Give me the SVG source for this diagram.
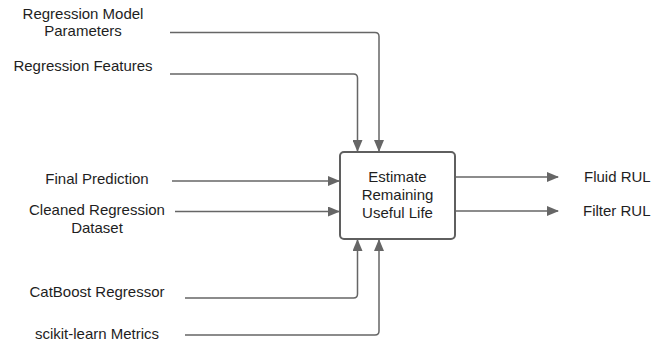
<svg xmlns="http://www.w3.org/2000/svg" width="652" height="344" viewBox="0 0 652 344">
  <defs>
    <marker id="arrow" viewBox="0 0 12 10" refX="11" refY="5" markerWidth="12" markerHeight="10" markerUnits="userSpaceOnUse" orient="auto">
      <path d="M0,0 L12,5 L0,10 z" fill="#666666"/>
    </marker>
  </defs>
  <style>
    text { font-family: "Liberation Sans", Arial, sans-serif; font-size: 15px; fill: #1e1e1e; }
    .c { text-anchor: middle; }
    .edge { fill: none; stroke: #666666; stroke-width: 1.5; marker-end: url(#arrow); }
    .box { fill: #ffffff; stroke: #5f5f5f; stroke-width: 2; }
  </style>
  <rect width="652" height="344" fill="#ffffff"/>

  <g id="connectors">
    <path class="edge" d="M170,32.5 H375 Q379,32.5 379,36.5 V151"/>
    <path class="edge" d="M170,74 H353.5 Q357.5,74 357.5,78 V151"/>
    <path class="edge" d="M172,181 H339"/>
    <path class="edge" d="M175,211.5 H339"/>
    <path class="edge" d="M185,298 H353.5 Q357.5,298 357.5,294 V240"/>
    <path class="edge" d="M185,335 H375 Q379,335 379,331 V240"/>
    <path class="edge" d="M456,177 H558"/>
    <path class="edge" d="M456,211 H558"/>
  </g>

  <g id="process">
    <rect class="box" x="340" y="152" width="115" height="87" rx="4"/>
    <text class="c" x="397.5" y="182">Estimate</text>
    <text class="c" x="397.5" y="200">Remaining</text>
    <text class="c" x="397.5" y="218">Useful Life</text>
  </g>

  <g id="in-model-params">
    <text class="c" x="83" y="19">Regression Model</text>
    <text class="c" x="83" y="36">Parameters</text>
  </g>
  <g id="in-features">
    <text class="c" x="83" y="71">Regression Features</text>
  </g>
  <g id="in-final-prediction">
    <text class="c" x="97" y="184">Final Prediction</text>
  </g>
  <g id="in-cleaned-dataset">
    <text class="c" x="97" y="215">Cleaned Regression</text>
    <text class="c" x="97" y="233">Dataset</text>
  </g>
  <g id="in-catboost">
    <text class="c" x="97" y="297">CatBoost Regressor</text>
  </g>
  <g id="in-metrics">
    <text class="c" x="97" y="339">scikit-learn Metrics</text>
  </g>
  <g id="out-fluid">
    <text x="584" y="182">Fluid RUL</text>
  </g>
  <g id="out-filter">
    <text x="583" y="216">Filter RUL</text>
  </g>
</svg>
